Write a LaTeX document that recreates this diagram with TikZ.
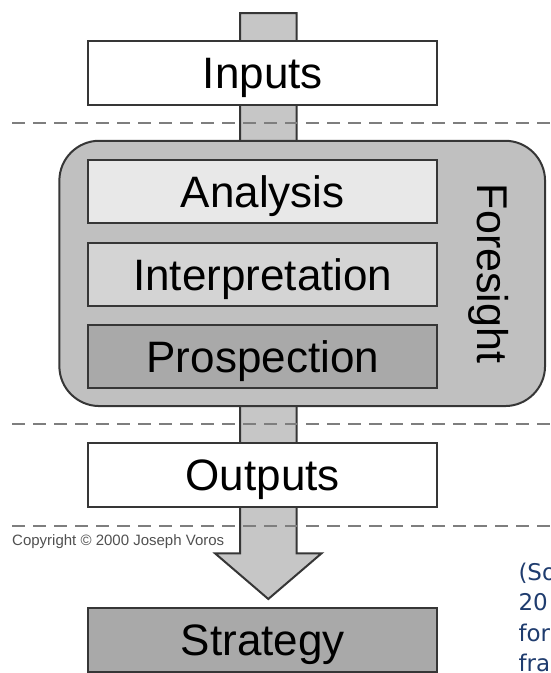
\documentclass[tikz,border=0pt]{standalone}
\usepackage{fontspec}
\setmainfont{Liberation Sans}
\newfontfamily\sourcefont{DejaVu Sans}
\definecolor{boxline}{HTML}{363636}
\definecolor{dashgray}{HTML}{7E7E7E}
\definecolor{stemgray}{HTML}{C6C6C6}
\definecolor{groupgray}{HTML}{C0C0C0}
\definecolor{analysisfill}{HTML}{E8E8E8}
\definecolor{interpfill}{HTML}{D4D4D4}
\definecolor{prospfill}{HTML}{A9A9A9}
\definecolor{copygray}{HTML}{505050}
\definecolor{srcblue}{HTML}{1F3C6E}

\begin{document}
\begin{tikzpicture}[x=1pt,y=-1pt,
    stage/.style = {rectangle,draw=boxline,line width=2,minimum width=349,minimum height=64,
                    inner sep=0,text height=31.5pt,text depth=0pt,font=\fontsize{44}{50}\selectfont},
    group/.style = {rectangle,draw=boxline,line width=2,fill=groupgray,rounded corners=40,
                    minimum width=485.7,minimum height=265.3,inner sep=0},
    divider/.style = {draw=dashgray,line width=2,dash pattern=on 13pt off 8pt},
    flow/.style = {draw=boxline,line width=2,fill=stemgray,line join=miter}]
\useasboundingbox (0,0) rectangle (550,673);
\draw[flow] (240,13) -- (296.6,13) -- (296.6,553.3) -- (321.6,553.3) -- (268.3,599)
    -- (215,553.3) -- (240,553.3) -- cycle;
\foreach \y in {122.7, 424.3, 525.7}
    \draw[divider] (12,\y) -- (550,\y);
\node[group] (foresight) at (302.2,273.4) {};
\node[stage,fill=white] (inputs) at (262.8,72.5) {Inputs};
\foreach \name/\txt/\col/\y in {analysis/Analysis/analysisfill/191.5,
                                interp/Interpretation/interpfill/274.5,
                                prosp/Prospection/prospfill/356.5}
    \node[stage,fill=\col,minimum height=63] (\name) at (262.8,\y) {\txt};
\node[rotate=-90,inner sep=0,text height=30.8pt,text depth=0pt,font=\fontsize{43}{50}\selectfont]
    (foresightlabel) at (492.5,273.5) {Foresight};
\node[stage,fill=white] (outputs) at (262.8,475) {Outputs};
\node[stage,fill=prospfill] (strategy) at (262.8,640.2) {Strategy};
\node[anchor=west,inner sep=0,text=copygray,font=\fontsize{15}{16}\selectfont]
    (copyright) at (12,542) {Copyright \textcopyright{} 2000 Joseph Voros};
\begin{scope}
\clip (0,0) rectangle (550,673);
\foreach \txt [count=\j from 0] in {{(So}, 20, for, fra}
    \node[anchor=base west,inner sep=0,text=srcblue,font=\sourcefont\fontsize{23}{28}\selectfont]
        (source\j) at (518.3,580+30.6*\j) {\txt};
\end{scope}
\end{tikzpicture}
\end{document}
